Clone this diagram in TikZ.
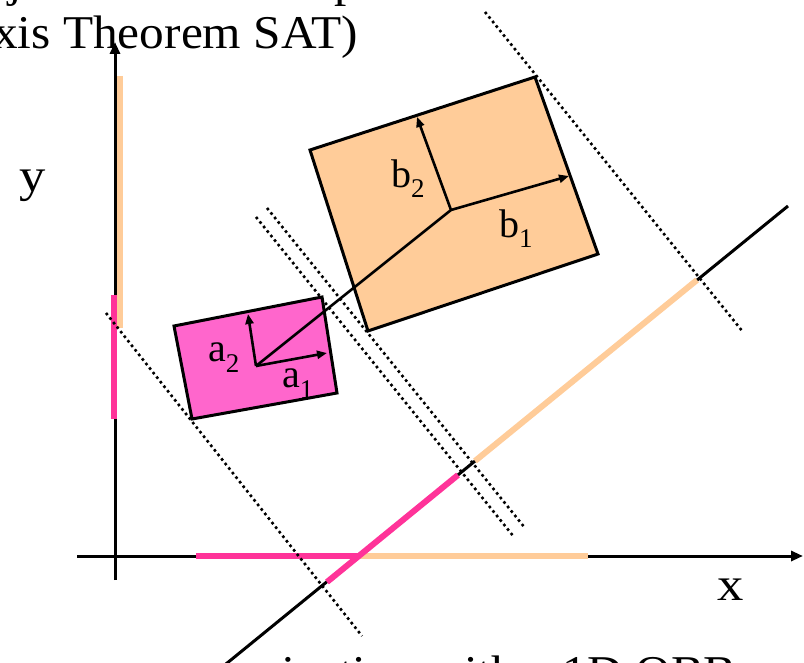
\documentclass[tikz,border=0pt]{standalone}
\usepackage{fontspec}
\setmainfont{Liberation Serif}
\usetikzlibrary{arrows.meta}
\definecolor{boxpink}{HTML}{FF66CC}
\definecolor{projpink}{HTML}{FF3399}
\definecolor{boxorange}{HTML}{FFCC99}
\newcommand\subtxt[1]{\raisebox{-10pt}{\fontsize{27}{27}\selectfont #1}}
\newcommand\widetxt[1]{\scalebox{1.12}[1]{#1}}
\newcommand\slidetxt[1]{\scalebox{1.05}[1]{#1}}
\begin{document}
\begin{tikzpicture}[x=1pt,y=-1pt,
  obb/.style={draw=black,line width=3pt,line join=miter},
  axisline/.style={line width=3pt},
  axisarrow/.style={line width=3pt,-{Triangle[length=12pt,width=10pt]}},
  proj/.style={line width=6pt},
  dotline/.style={line width=2.6pt,dash pattern=on 2.6pt off 3.2pt},
  vec/.style={line width=2.6pt,-{Triangle[length=10pt,width=8pt]}},
  lbl/.style={font=\fontsize{40}{40}\selectfont,inner sep=0pt,anchor=base west},
  bigtxt/.style={font=\fontsize{47}{47}\selectfont,inner sep=0pt}]
\useasboundingbox (0,0) rectangle (804,663);
% coordinates
\coordinate (Xs) at (77,556);
\coordinate (Xe) at (803,556);
\coordinate (Ys) at (115,580);
\coordinate (Ye) at (115,42);
\coordinate (Ds) at (210,677);
\coordinate (De) at (788,206);
\coordinate (PD1) at (327,582);
\coordinate (PD2) at (458,475);
\coordinate (QD1) at (475,461);
\coordinate (QD2) at (697,280);
\coordinate (PX1) at (196,556);
\coordinate (PX2) at (360,556);
\coordinate (QX1) at (360,556);
\coordinate (QX2) at (588,556);
\coordinate (QY1) at (120,76);
\coordinate (QY2) at (120,328);
\coordinate (PY1) at (114,295);
\coordinate (PY2) at (114,419);
\coordinate (A1) at (174,326);
\coordinate (A2) at (322,297);
\coordinate (A3) at (337,393);
\coordinate (A4) at (192,419);
\coordinate (Ac) at (256,366);
\coordinate (Ax) at (327,353);
\coordinate (Ay) at (248,314);
\coordinate (B1) at (310,150);
\coordinate (B2) at (535,77);
\coordinate (B3) at (598,254);
\coordinate (B4) at (368,331);
\coordinate (Bc) at (451,210);
\coordinate (Bx) at (569,176);
\coordinate (By) at (417,117);
\coordinate (L1s) at (106,313);
\coordinate (L1e) at (362,636);
\coordinate (L2s) at (256,217);
\coordinate (L2e) at (514,537);
\coordinate (L3s) at (267,208);
\coordinate (L3e) at (525,528);
\coordinate (L4s) at (485,12);
\coordinate (L4e) at (743,332);
% axes
\draw[axisarrow] (Xs) -- (Xe);
\draw[axisarrow] (Ys) -- (Ye);
\draw[axisline] (Ds) -- (De);
% projections on the axes
\draw[proj,boxorange] (QY1) -- (QY2);
\draw[proj,projpink] (PY1) -- (PY2);
\draw[proj,boxorange] (QX1) -- (QX2);
\draw[proj,projpink] (PX1) -- (PX2);
\draw[proj,boxorange] (QD1) -- (QD2);
\draw[proj,projpink] (PD1) -- (PD2);
% boxes
\draw[obb,fill=boxpink] (A1) -- (A2) -- (A3) -- (A4) -- cycle;
\draw[obb,fill=boxorange] (B1) -- (B2) -- (B3) -- (B4) -- cycle;
\draw[line width=2.6pt] (Ac) -- (Bc);
\draw[vec] (Ac) -- (Ax);
\draw[vec] (Ac) -- (Ay);
\draw[vec] (Bc) -- (Bx);
\draw[vec] (Bc) -- (By);
% dotted lines
\draw[dotline] (L1s) -- (L1e);
\draw[dotline] (L2s) -- (L2e);
\draw[dotline] (L3s) -- (L3e);
\draw[dotline] (L4s) -- (L4e);
% labels
\node[lbl] (la2) at (208,362) {a\subtxt{2}};
\node[lbl] (la1) at (282,388) {a\subtxt{1}};
\node[lbl] (lb2) at (391,188) {b\subtxt{2}};
\node[lbl] (lb1) at (499,238) {b\subtxt{1}};
\node[bigtxt,anchor=base] (ly) at (33,192) {\widetxt{y}};
\node[bigtxt,anchor=base] (lx) at (731,600) {\widetxt{x}};
\node[bigtxt,anchor=base west] (t1) at (-52,-3) {\slidetxt{Object intersection problem}};
\node[bigtxt,anchor=base east] (t2) at (358,49) {\slidetxt{(Separating Axis Theorem SAT)}};
\node[bigtxt,anchor=base east] (t3) at (737,688) {\slidetxt{projection with a 1D OBB}};
\end{tikzpicture}
\end{document}
